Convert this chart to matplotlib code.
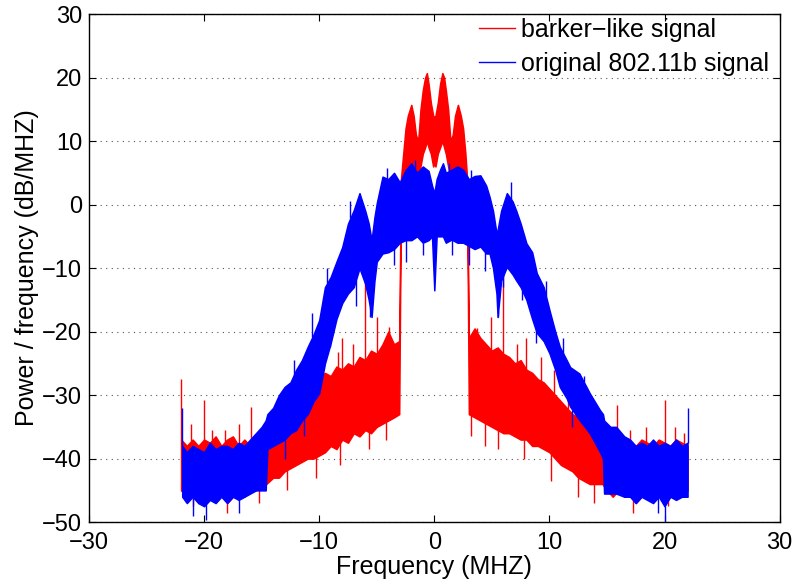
import matplotlib
matplotlib.use("Agg")
import matplotlib.pyplot as plt
import numpy as np

plt.rcParams["font.family"] = ["Liberation Sans", "DejaVu Sans"]

# --------------- data ---------------
# band envelopes (MHz, dB/MHz): lower and upper edge of each noisy trace
red_freq = [-22.0, -21.5, -21.0, -20.5, -20.0, -19.5, -19.0, -18.5, -18.0, -17.5,
            -17.0, -16.5, -16.0, -15.5, -15.0, -14.6, -14.0, -13.5, -13.0, -12.5,
            -12.0, -11.5, -11.0, -10.5, -10.0, -9.5, -9.0, -8.5, -8.0, -7.5,
            -7.0, -6.5, -6.0, -5.5, -5.0, -4.5, -4.0, -3.5, -3.05,
            -2.9, -2.7, -2.5, -2.3, -2.0, -1.8, -1.6, -1.4, -1.2, -1.0, -0.8,
            -0.65, -0.5, -0.3, -0.1, 0.0, 0.1, 0.3, 0.5, 0.7, 0.85, 1.0, 1.2,
            1.4, 1.6, 1.8, 2.05, 2.3, 2.5, 2.7, 2.85,
            3.0, 3.5, 4.0, 4.5, 5.0, 5.5, 6.0, 6.5, 7.0, 7.5, 8.0, 8.5, 9.0,
            9.5, 10.0, 10.5, 11.0, 11.5, 12.0, 12.5, 13.0, 13.5, 14.0, 14.6,
            15.0, 15.5, 16.0, 16.5, 17.0, 17.5, 18.0, 18.5, 19.0, 19.5, 20.0,
            20.5, 21.0, 21.5, 22.0]
red_low = [-45, -46, -45, -47, -46, -45, -46, -45, -47, -46,
           -45, -46, -45, -45, -44, -44, -43, -43, -42, -41.5,
           -41, -40.5, -40, -40, -39.5, -39, -38, -38.5, -37, -37.5,
           -36, -36.5, -35.5, -36, -35, -34.5, -34, -33.5, -33,
           2, 3, 4, 5, 6, 5, 4, 4, 6, 8, 9,
           10, 9, 8, 6, 6.5, 6, 8, 9, 10, 9, 8, 6,
           4, 4, 5, 6, 5, 4, 3, 2,
           -33, -33.5, -34, -34.5, -35, -35.5, -36, -36, -36.5, -37, -37, -38, -38,
           -38.5, -39, -40, -41, -41.5, -42, -43, -43.5, -44, -44, -44,
           -45, -46, -45, -46, -45, -47, -46, -45, -46, -45, -47,
           -46, -45, -46, -45]
red_high = [-37, -38, -37, -38, -37, -37.5, -36.5, -38, -37, -36.5,
            -38, -37, -38, -37, -38, -36, -35, -34, -33, -33,
            -31, -30, -29.5, -28, -27, -26.5, -27, -25.5, -26, -25,
            -25.5, -24, -24.5, -23, -23.5, -22, -20, -22, -21.5,
            4, 8, 12, 14, 15.7, 14, 11, 10, 15, 18, 20,
            20.7, 19, 16, 14, 13.8, 14, 16, 19, 20.7, 20, 18, 15,
            10, 11, 14, 15.7, 14, 12, 8, 4,
            -21, -19.5, -21, -22, -23, -22.5, -23.5, -24, -25, -24.5, -26, -26.5, -27.5,
            -28, -29, -30, -31, -32, -33, -33.5, -34, -35, -35, -36,
            -37.5, -37, -38, -37, -37.5, -38, -37, -37.5, -38, -37, -37.5,
            -38, -37, -37.5, -38]

blue_freq = [-21.9, -21.5, -21.0, -20.5, -20.0, -19.5, -19.0, -18.5, -18.0, -17.5,
             -17.0, -16.5, -16.0, -15.5, -15.0, -14.65, -14.5, -14.0, -13.5, -13.0,
             -12.5, -12.0, -11.5, -11.0, -10.5, -10.0, -9.5, -9.0, -8.5, -8.0,
             -7.5, -7.0, -6.5, -6.0, -5.7, -5.45, -5.2, -5.0, -4.5, -4.0,
             -3.5, -3.0, -2.5, -2.0, -1.5, -1.0, -0.5, -0.2, 0.0, 0.2,
             0.5, 0.75, 1.0, 1.5, 2.0, 2.5, 3.0, 3.5, 4.0, 4.5,
             4.8, 5.1, 5.4, 5.5, 5.8, 6.3, 6.8, 7.1, 7.5, 8.0,
             8.5, 8.9, 9.5, 10.0, 10.5, 10.9, 11.5, 11.8, 12.6, 13.5,
             14.4, 14.65, 14.75, 15.3, 15.8, 16.5, 17.0, 17.5, 18.0, 18.5,
             19.0, 19.5, 20.0, 20.5, 21.0, 21.5, 22.0]
blue_low = [-46, -47, -46, -47, -47.5, -46.5, -47, -46, -47, -46,
            -46.5, -46, -45.5, -45, -45, -45, -38.5, -38, -37.5, -37,
            -36, -35.5, -34, -33, -31, -29.7, -25, -21.8, -18, -15.5,
            -14, -13, -10, -12.5, -15, -17.7, -12, -9, -7.7, -7.5,
            -7, -6, -5.6, -5.6, -5, -6, -5.6, -5, -13.5, -5,
            -5, -5, -6, -5.5, -6, -6, -6.5, -7, -6.6, -7.7,
            -7.7, -10, -14, -17.7, -12, -9.8, -11, -11.9, -13, -15,
            -18, -20.2, -21.5, -23.4, -26, -28.7, -30.5, -31.8, -33.9, -36,
            -39, -40, -45.5, -45.5, -45.5, -46, -46, -47, -46, -46.5,
            -47, -46, -47.5, -46, -46.5, -46, -46]
blue_high = [-38, -39, -38, -38.5, -39, -37.5, -38.5, -38, -38, -38.5,
             -37.5, -38, -37, -36, -35, -34, -33, -32, -30, -28.7,
             -28, -26, -24.5, -22.4, -20.5, -18.2, -13, -11.4, -9, -6.7,
             -3, -0.9, 1.8, -1, -3, -5.6, -2, 0.2, 4.4, 4,
             5, 3.5, 5.4, 6.5, 5, 6, 5.3, 3, 1.8, 4,
             5.5, 6.5, 5, 5.5, 6, 5.5, 4, 4.5, 4.6, 3,
             1.2, -1, -4.5, -4, -1, 1.8, 0.5, -0.9, -3, -6.1,
             -7.5, -10.8, -13, -16.6, -20, -22.4, -24.5, -25.6, -26.6, -29.7,
             -32.4, -33, -34, -35, -35, -36.5, -37, -38, -37.5, -38,
             -37, -38, -37.5, -38, -37, -38, -37.5]

# isolated spikes sticking out of the bands
red_up_freq = [-22.0, -21.1, -20.0, -19.3, -18.2, -17.0, -15.9, -13.2, -11.8,
               -10.3, -8.4, -8.05, -7.1, -6.0, -5.0, -3.9,
               3.7, 4.96, 5.95, 7.2, 8.0, 9.3, 10.4, 11.6, 13.2, 15.9, 17.0,
               18.4, 20.0, 20.9, 21.7]
red_up_db = [-27.5, -34.5, -30.8, -35.5, -35.5, -34.5, -31.8, -30.5, -28,
             -24.5, -23.2, -21, -22, -9, -17.7, -19.2,
             -19.5, -17.7, -10, -22, -21, -24, -26, -29, -31, -31.6, -35.5,
             -35, -30.8, -35, -36]
red_down_freq = [-21.0, -18.0, -15.2, -12.8, -10.3, -8.2, -5.7, -4.2,
                 3.2, 4.4, 5.5, 7.8, 10.1, 12.5, 13.9, 17.3, 20.3]
red_down_db = [-47.5, -48.6, -47, -45, -43, -41, -38.5, -37,
               -36.5, -38, -38.5, -40, -43.5, -46, -47, -48.6, -47.5]

blue_up_freq = [-21.95, -12.2, -10.6, -9.3, -7.3, -4.1, -1.7, 1.3, 3.2,
                6.7, 9.7, 11.2, 13.0, 22.0]
blue_up_db = [-32, -24.5, -17, -10, 0.5, 5.8, 7, 6.5, 5.5,
              3.5, -12, -21, -27, -32]
blue_down_freq = [-21.0, -19.8, -17.0, -13.0, -11.3, -9.1, -6.8, -5.6, -3.5,
                  -2.5, -1.0, 1.5, 3.0, 4.4, 5.55, 6.0, 7.6, 8.8, 12.0,
                  19.4, 20.0]
blue_down_db = [-49, -49.7, -48.5, -40, -36.5, -21.8, -16, -17.7, -9.5,
                -9, -8, -8, -9.5, -10.5, -17.7, -13, -15, -21.8, -35,
                -48.5, -50]

x_ticks = [-30, -20, -10, 0, 10, 20, 30]
y_ticks = [-50, -40, -30, -20, -10, 0, 10, 20, 30]

RED = "#ff0000"
BLUE = "#0000ff"

fig, ax = plt.subplots(figsize=(7.98, 5.86), dpi=100)
fig.subplots_adjust(left=0.1115, right=0.977, bottom=0.109, top=0.976)


def draw_trace(freq, low, high, up_f, up_db, dn_f, dn_db, color, label):
    ax.fill_between(freq, low, high, color=color, linewidth=1.1,
                    edgecolor=color, zorder=2)
    ax.vlines(up_f, np.interp(up_f, freq, high), up_db, color=color,
              linewidth=1.0, zorder=2)
    ax.vlines(dn_f, dn_db, np.interp(dn_f, freq, low), color=color,
              linewidth=1.0, zorder=2)
    ax.plot([], [], color=color, linewidth=1.0, label=label)


draw_trace(red_freq, red_low, red_high, red_up_freq, red_up_db,
           red_down_freq, red_down_db, RED, "barker\u2212like signal")
draw_trace(blue_freq, blue_low, blue_high, blue_up_freq, blue_up_db,
           blue_down_freq, blue_down_db, BLUE, "original 802.11b signal")

ax.set_xlim(-30, 30)
ax.set_ylim(-50, 30)
ax.set_xticks(x_ticks)
ax.set_yticks(y_ticks)
ax.tick_params(direction="in", top=True, right=True, labelsize=17,
               length=5, width=0.8)
ax.tick_params(axis="x", pad=7)
ax.tick_params(axis="y", pad=5)
ax.yaxis.grid(True, linestyle=(0, (1, 4)), color="#555555", linewidth=0.8)
ax.set_axisbelow(True)
for s in ax.spines.values():
    s.set_linewidth(1.0)

ax.set_xlabel("Frequency (MHZ)", fontsize=18, labelpad=1)
ax.set_ylabel("Power / frequency (dB/MHZ)", fontsize=18, labelpad=2)

ax.legend(loc="upper right", frameon=False, fontsize=18, handlelength=1.45,
          handletextpad=0.25, borderaxespad=0.0, borderpad=0.0,
          labelspacing=0.4, bbox_to_anchor=(0.985, 0.993))

fig.savefig("out.png", dpi=100)
